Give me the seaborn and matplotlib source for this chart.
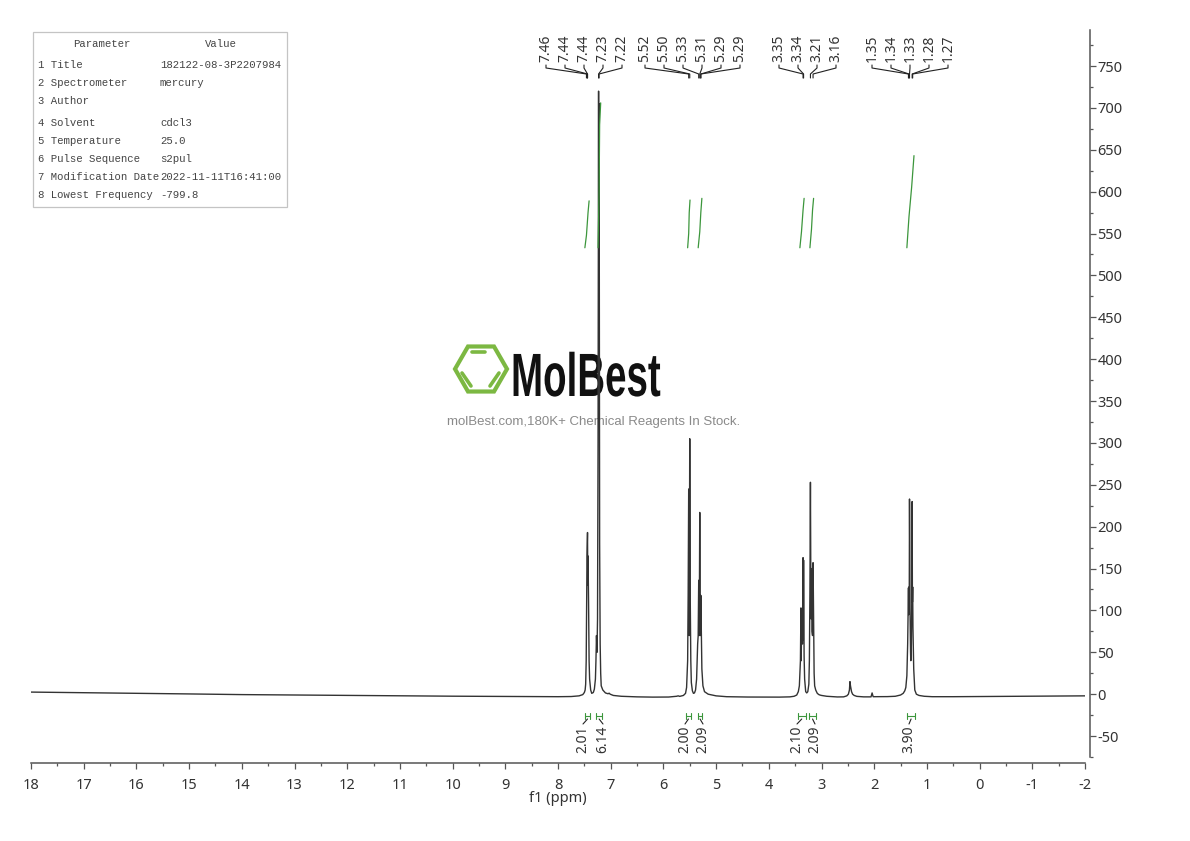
import numpy as np
import pandas as pd
import seaborn as sns
import matplotlib
matplotlib.use("Agg")
from matplotlib import pyplot as plt
from matplotlib.patches import RegularPolygon, Rectangle
from matplotlib.patheffects import AbstractPathEffect
from matplotlib.ticker import MultipleLocator
from matplotlib.transforms import Affine2D

# spectrum vertices
ppm = [18.0, 17.0, 16.0, 15.0, 14.0, 13.0, 12.0, 11.0, 10.0, 9.0, 8.5, 8.0, 7.75, 7.6, 7.53, 7.5, 7.485,
       7.475, 7.465, 7.46, 7.455, 7.45, 7.44, 7.435, 7.43, 7.42, 7.41, 7.40, 7.38, 7.36, 7.33, 7.31, 7.29, 7.28,
       7.27, 7.26, 7.25, 7.24, 7.23, 7.225, 7.22, 7.21, 7.20, 7.19, 7.18, 7.15, 7.10, 7.05, 7.03, 7.01, 6.95,
       6.8, 6.5, 6.2, 5.9, 5.75, 5.72, 5.69, 5.62, 5.58, 5.56, 5.54, 5.53, 5.52, 5.51, 5.50, 5.49, 5.48, 5.47, 5.45,
       5.43, 5.41, 5.39, 5.37, 5.35, 5.34, 5.33, 5.32, 5.31, 5.30, 5.29, 5.28, 5.27, 5.25, 5.22, 5.15, 5.0, 4.8,
       4.4, 4.0, 3.8, 3.6, 3.52, 3.47, 3.44, 3.42, 3.40, 3.39, 3.385, 3.375, 3.37, 3.36, 3.355, 3.35, 3.345, 3.34,
       3.33, 3.32, 3.30, 3.28, 3.26, 3.24, 3.23, 3.22, 3.21, 3.20, 3.19, 3.18, 3.17, 3.16, 3.15, 3.14, 3.13, 3.11,
       3.08, 3.05, 3.03, 3.0, 2.9, 2.7, 2.58, 2.52, 2.49, 2.47, 2.46, 2.45, 2.43, 2.41, 2.38, 2.33, 2.2, 2.06, 2.04,
       2.02, 1.9, 1.75, 1.6, 1.5, 1.45, 1.42, 1.40, 1.38, 1.365, 1.355, 1.35, 1.345, 1.34, 1.335, 1.33, 1.32, 1.31,
       1.305, 1.30, 1.295, 1.29, 1.285, 1.28, 1.275, 1.27, 1.265, 1.25, 1.23, 1.20, 1.15, 1.05, 0.9, 0.5, 0.0,
       -0.5, -1.0, -1.5, -2.0]
intensity = [2.5, 1.8, 1.0, 0.3, -0.5, -1.0, -1.5, -2.0, -2.4, -2.7, -2.9, -3.0, -2.8, -2.0, -0.5, 2, 5,
             12, 40, 90, 120, 165, 193, 130, 165, 110, 40, 18, 5, 1, 2, 6, 18, 40,
             70, 50, 90, 300, 720, 400, 705, 180, 60, 25, 10, 5, 1.5, 0.5, 1.2, 0, -1.5,
             -2.5, -3.2, -3.5, -3.4, -2.5, -2.0, -2.6, -1.5, 1, 8, 40, 120, 245, 70, 305, 110, 40, 14, 4,
             1, 1.5, 5, 18, 60, 70, 136, 70, 217, 70, 118, 70, 30, 10, 3, 0, -2, -3,
             -3.4, -3.5, -3.5, -3.2, -2.5, -1, 3, 10, 40, 103, 40, 100, 60, 60, 130, 163, 65, 160,
             45, 18, 3, 1.5, 3, 12, 40, 120, 253, 90, 150, 75, 70, 157, 90, 25, 10, 5,
             1, -0.5, -1.0, -1.5, -2.5, -3.3, -3.2, -2.0, 0, 5, 15, 10, 3, 0, -1.5, -2.6, -3.2, -3.2, 1.5,
             -3.0, -3.0, -2.9, -2.5, -1, 1, 4, 8, 22, 60, 100, 127, 95, 128, 110, 233, 100, 50,
             40, 42, 60, 100, 128, 230, 110, 128, 80, 30, 5, 0, -1.5, -2.5, -3.0, -3.0, -2.8,
             -2.5, -2.4, -2.2, -2.0]

x_ticks = list(range(18, -3, -1))
y_ticks = list(range(-50, 751, 50))

# integral curves, top of the plot
integral_ppm = [[7.49, 7.46, 7.43, 7.41], [7.24, 7.22, 7.21, 7.19], [5.54, 5.52, 5.51, 5.495],
                [5.34, 5.31, 5.29, 5.27], [3.41, 3.38, 3.35, 3.33], [3.22, 3.19, 3.17, 3.15],
                [1.38, 1.34, 1.29, 1.245]]
integral_val = [[533, 548, 575, 589], [533, 600, 680, 706], [533, 550, 575, 590],
                [533, 552, 575, 592], [533, 552, 578, 592], [533, 555, 578, 592],
                [533, 570, 605, 643]]

# integration ranges, bottom of the plot
range_start = [7.49, 7.27, 5.57, 5.35, 3.45, 3.23, 1.38]
range_end = [7.39, 7.17, 5.48, 5.26, 3.30, 3.11, 1.22]
area_labels = ["2.01", "6.14", "2.00", "2.09", "2.10", "2.09", "3.90"]
area_label_px = [583, 603, 685, 703, 797, 815, 909]

peak_groups = [["7.46", "7.44", "7.44", "7.23", "7.22"],
               ["5.52", "5.50", "5.33", "5.31", "5.29", "5.29"],
               ["3.35", "3.34", "3.21", "3.16"],
               ["1.35", "1.34", "1.33", "1.28", "1.27"]]
group_start_px = [546, 645, 779, 872]

param_names = ["1 Title", "2 Spectrometer", "3 Author", "4 Solvent", "5 Temperature",
               "6 Pulse Sequence", "7 Modification Date", "8 Lowest Frequency"]
param_values = ["182122-08-3P2207984", "mercury", "", "cdcl3", "25.0", "s2pul",
                "2022-11-11T16:41:00", "-799.8"]
param_row_px = [65, 83, 101, 123, 141, 159, 177, 195]


class SqueezeX(AbstractPathEffect):
    # the logo lettering is much narrower than any installed font
    def __init__(self, factor, anchor):
        super().__init__()
        self.factor = factor
        self.anchor = anchor

    def draw_path(self, renderer, gc, tpath, affine, rgbFace=None):
        x0 = self.anchor
        squeeze = Affine2D().translate(-x0, 0).scale(self.factor, 1).translate(x0, 0)
        renderer.draw_path(gc, tpath, affine + squeeze, rgbFace)


sns.set_theme(style="white")
plt.rcParams["font.family"] = ["Noto Sans", "DejaVu Sans"]
plt.rcParams["axes.unicode_minus"] = False

W, H = 1190, 841
L, R, T, B = 31, 1085, 30, 757
INK = "#333333"
AXIS = "#555555"
GREEN = "#3c963c"

fig = plt.figure(figsize=(W / 100, H / 100), dpi=100)
bg = fig.add_axes([0, 0, 1, 1], zorder=0)
bg.set_xlim(0, W)
bg.set_ylim(H, 0)
bg.axis("off")

ax = fig.add_axes([L / W, 1 - B / H, (R - L) / W, (B - T) / H], zorder=1)
ax.patch.set_alpha(0)

df = pd.DataFrame({"ppm": ppm, "intensity": intensity})
sns.lineplot(data=df, x="ppm", y="intensity", sort=False, estimator=None, color="#333333", lw=1.0, ax=ax)
for xs, ys in zip(integral_ppm, integral_val):
    sns.lineplot(x=xs, y=ys, sort=False, estimator=None, color=GREEN, lw=0.9, ax=ax)

ax.set_xlim(18, -2)
ax.set_ylim(-75, 793)
ax.set_xticks(x_ticks)
ax.set_yticks(y_ticks)
ax.xaxis.set_minor_locator(MultipleLocator(0.5))
ax.yaxis.set_minor_locator(MultipleLocator(25))
sns.despine(ax=ax, top=True, left=True, right=False, bottom=False, offset={"right": 3.6, "bottom": 4.3})
ax.yaxis.set_ticks_position("right")
ax.tick_params(axis="both", which="major", length=4.3, width=0.9, color=AXIS, labelsize=10.5, labelcolor=INK)
ax.tick_params(axis="both", which="minor", length=2.2, width=0.9, color=AXIS)
ax.tick_params(axis="x", which="both", bottom=True, pad=6.5)
ax.tick_params(axis="y", which="both", right=True, pad=1)
for side in ["right", "bottom"]:
    ax.spines[side].set_color(AXIS)
    ax.spines[side].set_linewidth(1.1)
ax.set_xlabel("")
ax.set_ylabel("")
bg.text(558, 799, "f1 (ppm)", ha="center", va="center", fontsize=10.5, color=INK)


def to_px(p):
    return L + (18 - p) * (R - L) / 20


# peak picking labels and their leaders
for labels, start in zip(peak_groups, group_start_px):
    for i, lab in enumerate(labels):
        lx = start + i * 19
        tx = to_px(float(lab))
        bg.plot([lx, lx, tx, tx], [65, 68, 74, 78], color="#222222", lw=0.8)
        bg.text(lx, 62, lab, rotation=90, ha="center", va="bottom", fontsize=10, color=INK)

# integration brackets and areas
for a, b, lab, lx in zip(range_start, range_end, area_labels, area_label_px):
    xa, xb = to_px(a), to_px(b)
    bg.plot([xa, xa], [713, 719], color=GREEN, lw=0.8)
    bg.plot([xb, xb], [713, 719], color=GREEN, lw=0.8)
    bg.plot([xa, xb], [716, 716], color=GREEN, lw=0.8)
    bg.plot([(xa + xb) / 2, lx], [719, 724], color="#222222", lw=0.8)
    bg.text(lx, 753, lab, rotation=90, ha="center", va="bottom", fontsize=10, color=INK)

# parameter table
bg.add_patch(Rectangle((33, 32), 254, 175, fill=False, ec="#c4c4c4", lw=0.9))
MONO = "Liberation Mono"
bg.text(102, 43.5, "Parameter", ha="center", va="center", fontsize=7.7, family=MONO, color="#444444")
bg.text(221, 43.5, "Value", ha="center", va="center", fontsize=7.7, family=MONO, color="#444444")
for name, val, y in zip(param_names, param_values, param_row_px):
    bg.text(38, y, name, va="center", fontsize=7.7, family=MONO, color="#444444")
    bg.text(160, y, val, va="center", fontsize=7.7, family=MONO, color="#444444")

# watermark
LOGO = "#7cb842"
bg.add_patch(RegularPolygon((481, 369), 6, radius=26, orientation=np.pi / 6, fill=False, ec=LOGO, lw=3))
bg.plot([472, 485], [352, 352], color=LOGO, lw=2.6, solid_capstyle="round")
bg.plot([462, 471], [373, 386], color=LOGO, lw=2.6, solid_capstyle="round")
bg.plot([490, 499], [386, 373], color=LOGO, lw=2.6, solid_capstyle="round")
bg.text(511, 396, "MolBest", ha="left", va="baseline", fontsize=44, family="Liberation Sans", weight="bold",
        color="#111111", path_effects=[SqueezeX(0.63, 511)])
bg.text(594, 422, "molBest.com,180K+ Chemical Reagents In Stock.", ha="center", va="center", fontsize=9.5,
        family="Liberation Sans", color="#8a8a8a")

fig.savefig("out.png", dpi=100)
